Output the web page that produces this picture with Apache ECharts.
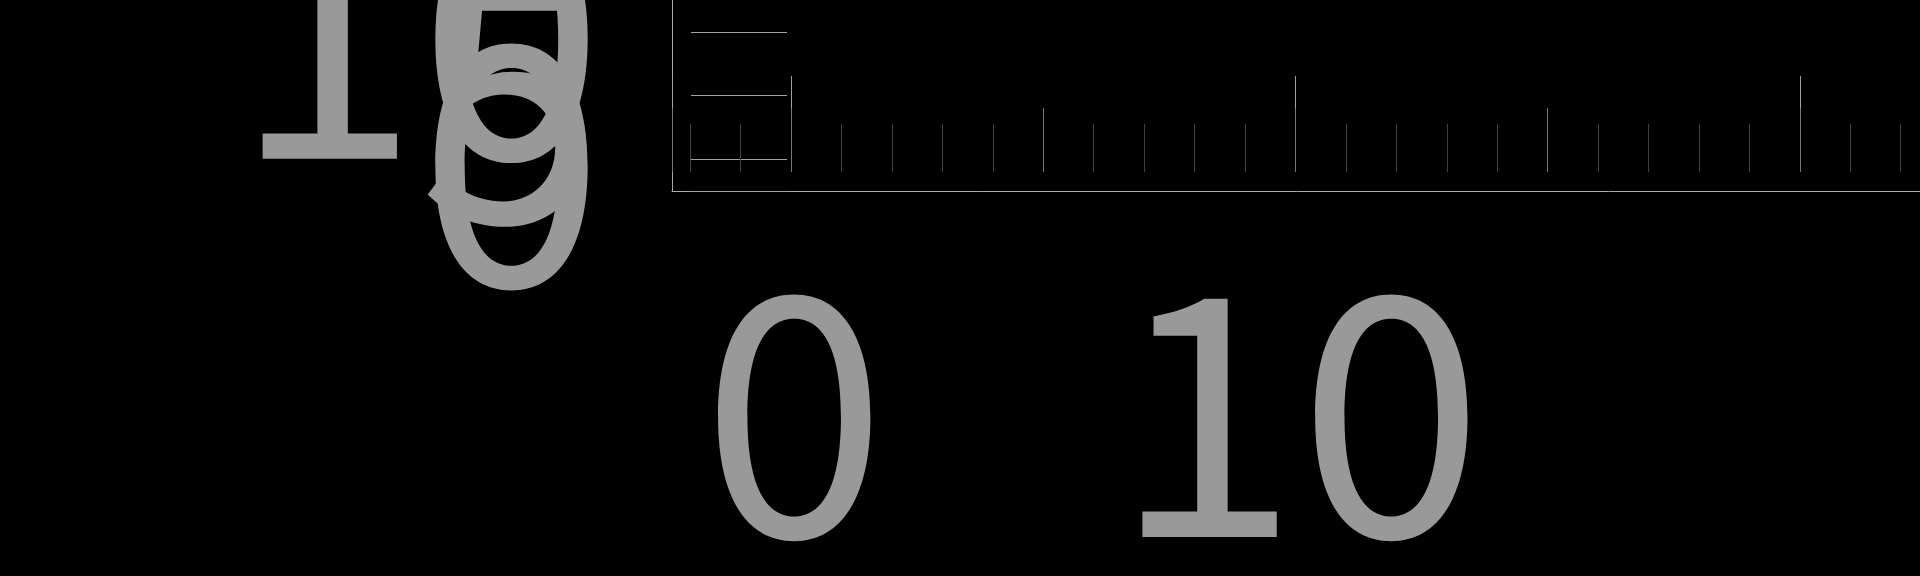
<!DOCTYPE html>
<html>
<head>
<meta charset="utf-8">
<style>
  html, body { margin: 0; padding: 0; background: #000; }
  #main { width: 1920px; height: 576px; }
</style>
<script src="https://cdn.jsdelivr.net/npm/echarts@6/dist/echarts.min.js"></script>
</head>
<body>
<div id="main"></div>
<script>
// axis ranges and tick labels
const xRange = [-2.36, 22.58];
const yRange = [-2.5, 13.29];
const xTickLabels = [0, 10];
const yTickLabels = [0, 5, 10];
const points = [];

const labelFont = 'Noto Sans CJK SC';
const labelColor = '#999';
const labelSize = 334;

const chart = echarts.init(document.getElementById('main'));

const hideAll = { show: false };

chart.setOption({
  backgroundColor: '#000',
  animation: false,
  grid: { left: 672, right: -10, top: -10, bottom: 385, outerBoundsMode: 'none', containLabel: false },
  xAxis: [
    {
      // labels, long ticks (step 10) and 1-unit minor ticks
      type: 'value',
      position: 'bottom',
      min: xRange[0],
      max: xRange[1],
      splitNumber: 2,
      offset: -19,
      axisLine: { show: false, onZero: false },
      splitLine: hideAll,
      axisTick: { show: true, inside: true, length: 96, lineStyle: { color: '#a0a0a0' } },
      minorTick: { show: true, splitNumber: 10, length: 48, lineStyle: { color: '#444' } },
      axisLabel: {
        margin: 71,
        padding: [0, 0, 0, 6],
        fontSize: labelSize,
        fontFamily: labelFont,
        color: labelColor,
        formatter: v => (xTickLabels.includes(v) ? String(v) : '')
      }
    },
    {
      // medium ticks (step 5)
      type: 'value',
      position: 'bottom',
      min: xRange[0],
      max: xRange[1],
      splitNumber: 5,
      offset: -19,
      axisLine: { show: false, onZero: false },
      splitLine: hideAll,
      axisLabel: hideAll,
      axisTick: { show: true, inside: true, length: 64, lineStyle: { color: '#777' } }
    },
    {
      // bottom border line
      type: 'value',
      position: 'bottom',
      min: xRange[0],
      max: xRange[1],
      axisLine: { show: true, onZero: false, lineStyle: { color: '#aaa' } },
      axisTick: hideAll,
      axisLabel: hideAll,
      splitLine: hideAll
    }
  ],
  yAxis: [
    {
      type: 'value',
      position: 'left',
      min: yRange[0],
      max: yRange[1],
      splitNumber: 3,
      offset: -19,
      axisLine: { show: false, onZero: false },
      splitLine: hideAll,
      axisTick: { show: true, inside: true, length: 96, lineStyle: { color: '#a0a0a0' } },
      axisLabel: {
        margin: 87,
        padding: [0, 0, 5, 0],
        fontSize: labelSize,
        fontFamily: labelFont,
        color: labelColor,
        formatter: v => (yTickLabels.includes(v) ? String(v) : '')
      }
    },
    {
      // left border line
      type: 'value',
      position: 'left',
      min: yRange[0],
      max: yRange[1],
      axisLine: { show: true, onZero: false, lineStyle: { color: '#aaa' } },
      axisTick: hideAll,
      axisLabel: hideAll,
      splitLine: hideAll
    }
  ],
  series: [
    { type: 'scatter', xAxisIndex: 0, yAxisIndex: 0, data: points }
  ]
});
</script>
</body>
</html>
